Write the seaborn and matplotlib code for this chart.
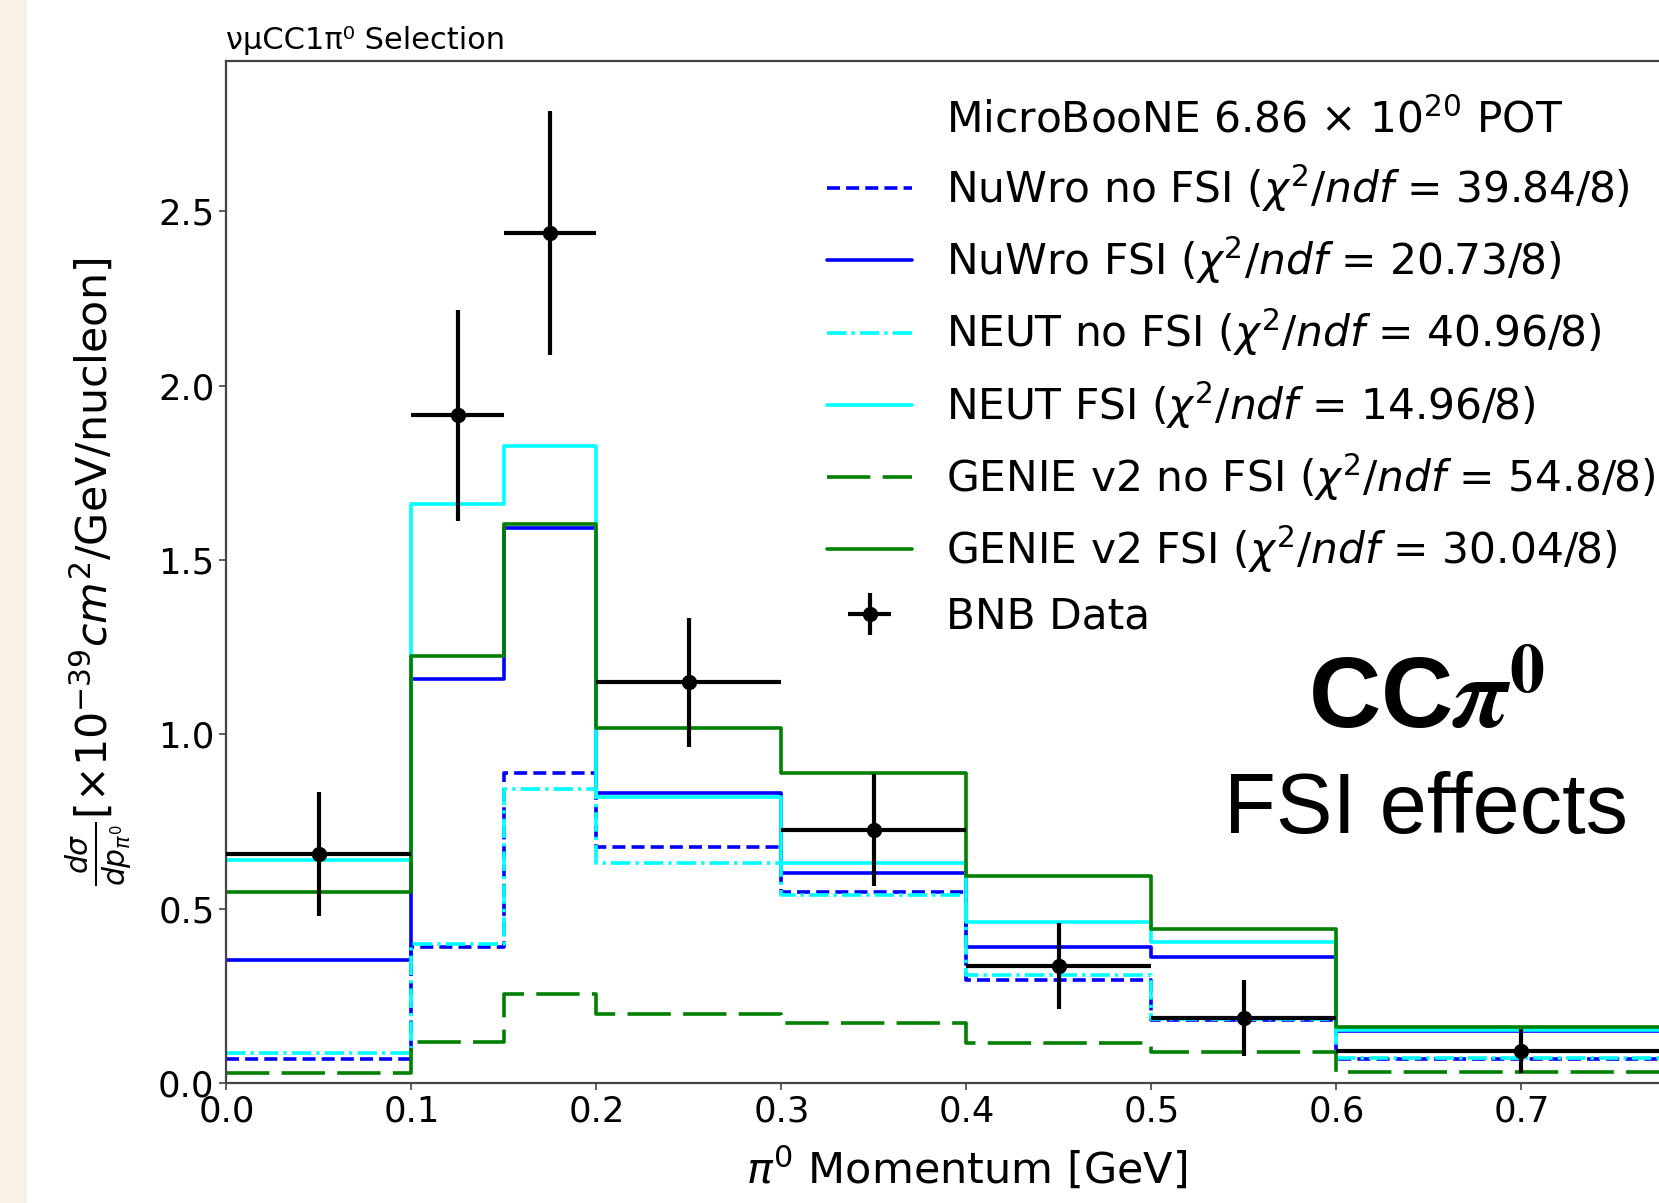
import numpy as np
import pandas as pd
import matplotlib
matplotlib.use("Agg")
import matplotlib.pyplot as plt
from matplotlib.lines import Line2D
from matplotlib.patches import Rectangle
import seaborn as sns

# ---------------- data ----------------
bin_edges = [0.0, 0.1, 0.15, 0.2, 0.3, 0.4, 0.5, 0.6, 0.8]

nuwro_nofsi = [0.070, 0.390, 0.889, 0.676, 0.548, 0.294, 0.180, 0.068]
nuwro_fsi   = [0.352, 1.159, 1.593, 0.831, 0.603, 0.391, 0.360, 0.148]
neut_nofsi  = [0.087, 0.399, 0.842, 0.632, 0.539, 0.311, 0.183, 0.072]
neut_fsi    = [0.641, 1.662, 1.827, 0.820, 0.630, 0.462, 0.405, 0.151]
genie_nofsi = [0.030, 0.119, 0.255, 0.197, 0.173, 0.114, 0.088, 0.032]
genie_fsi   = [0.547, 1.225, 1.602, 1.018, 0.888, 0.594, 0.441, 0.161]

data_x    = [0.05, 0.125, 0.175, 0.25, 0.35, 0.45, 0.55, 0.70]
data_y    = [0.657, 1.915, 2.437, 1.149, 0.726, 0.335, 0.186, 0.092]
data_yerr = [0.177, 0.302, 0.350, 0.186, 0.161, 0.124, 0.109, 0.062]
data_xerr = [0.05, 0.025, 0.025, 0.05, 0.05, 0.05, 0.05, 0.10]

labels = [
    r"NuWro no FSI ($\chi^2/ndf$ = 39.84/8)",
    r"NuWro FSI ($\chi^2/ndf$ = 20.73/8)",
    r"NEUT no FSI ($\chi^2/ndf$ = 40.96/8)",
    r"NEUT FSI ($\chi^2/ndf$ = 14.96/8)",
    r"GENIE v2 no FSI ($\chi^2/ndf$ = 54.8/8)",
    r"GENIE v2 FSI ($\chi^2/ndf$ = 30.04/8)",
]
pot_label = r"MicroBooNE 6.86 $\times$ 10$^{20}$ POT"
data_label = "BNB Data"
x_ticks = [0.0, 0.1, 0.2, 0.3, 0.4, 0.5, 0.6, 0.7]
y_ticks = [0.0, 0.5, 1.0, 1.5, 2.0, 2.5]

# ---------------- style ----------------
sns.set_style("ticks")
plt.rcParams["font.family"] = ["DejaVu Sans"]
plt.rcParams["mathtext.fontset"] = "dejavusans"
plt.rcParams["text.color"] = "black"
plt.rcParams["axes.labelcolor"] = "black"
plt.rcParams["xtick.color"] = "black"
plt.rcParams["ytick.color"] = "black"

W, H = 1659, 1203
fig = plt.figure(figsize=(W / 100, H / 100), dpi=100)
fig.patch.set_facecolor("white")
fig.patches.append(Rectangle((0, 0), 27 / W, 1, transform=fig.transFigure,
                             facecolor="#F9F1E8", edgecolor="none", zorder=0))

ax_left = 226.4 / W
ax_bottom = (H - 1083) / H
ax_w = 1480 / W
ax_h = 1021.6 / H
ax = fig.add_axes([ax_left, ax_bottom, ax_w, ax_h])

edges = list(bin_edges)
centers = [0.5 * (a + b) for a, b in zip(edges[:-1], edges[1:])]

series = [nuwro_nofsi, nuwro_fsi, neut_nofsi, neut_fsi, genie_nofsi, genie_fsi]
colors = ["blue", "blue", "cyan", "cyan", "green", "green"]
styles = [(0, (3.6, 1.7)), "-", (0, (5.4, 1.4, 0.9, 1.4)), "-", (0, (12, 3.4)), "-"]

handles = []
for vals, col, ls, lab in zip(series, colors, styles, labels):
    df = pd.DataFrame({"p": centers, "w": vals})
    sns.histplot(data=df, x="p", weights="w", bins=edges, element="step",
                 fill=False, color=col, linestyle=ls, linewidth=2.6, ax=ax)
    ln = ax.lines[-1]
    ln.set_label(lab)
    handles.append(ln)

eb = ax.errorbar(data_x, data_y, yerr=data_yerr, xerr=data_xerr, fmt="o",
                 color="black", markersize=10, elinewidth=3.0, capsize=0,
                 label=data_label, zorder=10)

ax.set_xlim(0, 0.8)
ax.set_ylim(0, 2.93)
ax.set_xticks(x_ticks)
ax.set_xticklabels([f"{v:.1f}" for v in x_ticks])
ax.set_yticks(y_ticks)
ax.set_yticklabels([f"{v:.1f}" for v in y_ticks])
ax.tick_params(axis="both", labelsize=25.5, length=5, width=1.2, color="#444444",
               labelcolor="black")
for s in ax.spines.values():
    s.set_color("#444444")
    s.set_linewidth(1.6)

ax.set_xlabel(r"$\pi^0$ Momentum [GeV]", fontsize=31, labelpad=12)
ax.set_ylabel(r"$\frac{d\sigma}{dp_{\pi^0}}[\times10^{-39}cm^2/\mathrm{GeV/nucleon}]$",
              fontsize=30.8, labelpad=18)
ax.set_title("νμCC1π⁰ Selection", loc="left", fontsize=22, pad=9)

pot_handle = Line2D([], [], linestyle="none", marker="none")
leg = ax.legend([pot_handle] + handles + [eb], [pot_label] + labels + [data_label],
                loc="upper left", bbox_to_anchor=(0.406, 0.963), frameon=False,
                fontsize=30.5, borderpad=0, handlelength=2.0, handletextpad=0.8,
                labelspacing=0.49, borderaxespad=0)

fig.text(0.8596, 0.3948, r"CC$\mathbfit{\pi}^{\mathbf{0}}$", ha="center", va="baseline",
         fontsize=72, fontweight="bold", family="Liberation Sans", math_fontfamily="stix",
         color="black")
fig.text(0.8596, 0.3076, "FSI effects", ha="center", va="baseline",
         fontsize=61, family="Liberation Sans", color="black")

fig.savefig("out.png", dpi=100)
